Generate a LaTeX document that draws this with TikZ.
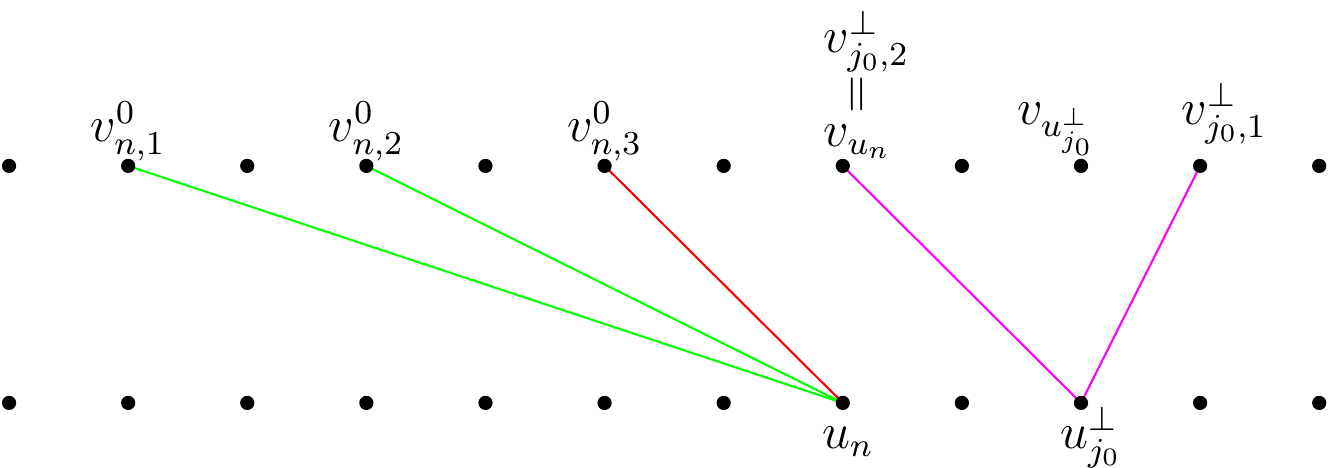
\documentclass[tikz,border=0pt]{standalone}
\usetikzlibrary{positioning}
\definecolor{lgreen}{RGB}{0,255,0}
\definecolor{lred}{RGB}{255,0,0}
\definecolor{lmag}{RGB}{255,0,255}
\begin{document}
\begin{tikzpicture}[
  dot/.style={circle,fill=black,inner sep=0pt,minimum size=3.4pt},
  lab/.style={inner sep=0pt,anchor=base,font=\large},
  labw/.style={inner sep=0pt,anchor=base west,font=\large},
  gline/.style={draw=lgreen,line width=0.5pt},
  rline/.style={draw=lred,line width=0.5pt},
  mline/.style={draw=lmag,line width=0.5pt}
]
\useasboundingbox (0,0) rectangle (11.150,3.929);
% positions
\foreach \i in {0,...,11}{
  \coordinate (t\i) at (0.076+\i,2.536);
  \coordinate (b\i) at (0.076+\i,0.546);
}
% connectors
\draw[gline] (t1) -- (b7);
\draw[gline] (t3) -- (b7);
\draw[rline] (t5) -- (b7);
\draw[mline] (t7) -- (b9);
\draw[mline] (t10) -- (b9);
% dots
\foreach \i in {0,...,11}{
  \node[dot] (dt\i) at (t\i) {};
  \node[dot] (db\i) at (b\i) {};
}
% labels
\node[lab] (l1) at (1.076,2.740) {$v^{0}_{n,1}$};
\node[lab] (l3) at (3.076,2.740) {$v^{0}_{n,2}$};
\node[lab] (l5) at (5.076,2.740) {$v^{0}_{n,3}$};
\node[labw] (l7) at (6.910,2.698) {$v_{u_n}$};
\node[inner sep=0pt,font=\large] (eq7) at (7.221,3.140) {\rotatebox{90}{$=$}};
\node[labw] (p7) at (6.910,3.484) {$v^{\perp}_{j_0,2}$};
\node[lab] (l9) at (8.872,2.880) {$v_{u^{\perp}_{j_0}}$};
\node[lab] (l10) at (10.280,2.880) {$v^{\perp}_{j_0,1}$};
\node[lab] (lb7) at (7.120,0.160) {$u_n$};
\node[lab] (lb9) at (9.160,0.160) {$u^{\perp}_{j_0}$};
\end{tikzpicture}
\end{document}
